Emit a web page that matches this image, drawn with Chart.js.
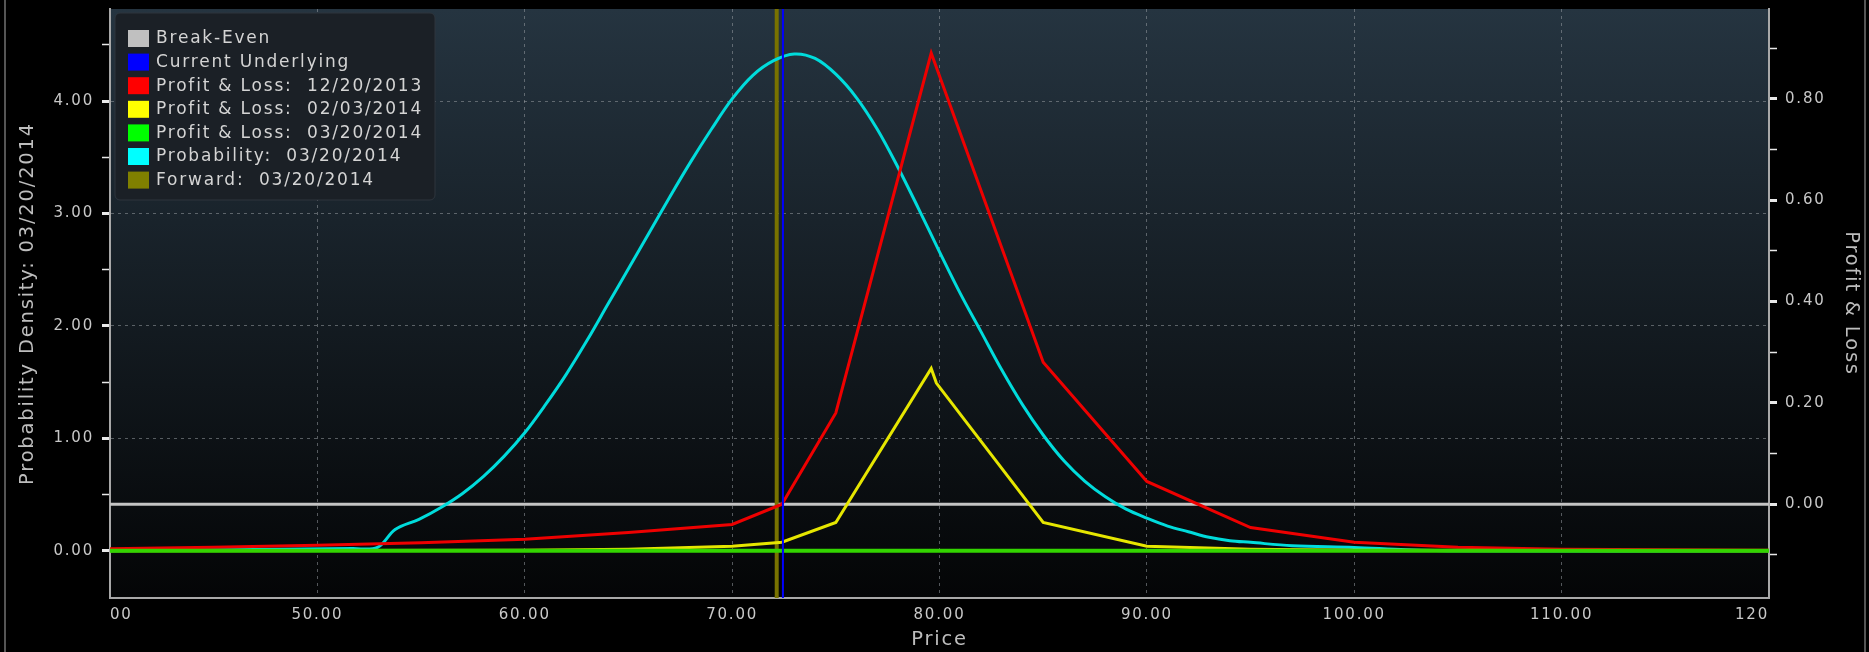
<!DOCTYPE html>
<html>
<head>
<meta charset="utf-8">
<title>Option P&amp;L</title>
<script src="https://cdn.jsdelivr.net/npm/chart.js@4.4.1/dist/chart.umd.min.js"></script>
<style>
  html, body { margin: 0; padding: 0; background: #000; }
  #wrap { width: 1869px; height: 652px; }
</style>
</head>
<body>
<div id="wrap"><canvas id="pnlChart"></canvas></div>
<script>
// prices on the x axis
const probPrice = [40, 51.7, 52.9, 53.75, 54.9, 56, 57, 58, 59, 60, 61, 62, 63, 64, 65, 66, 67, 68, 69, 70, 71, 72, 73, 74, 75, 76, 77, 78, 79, 80, 81, 82, 83, 84, 85, 86, 87, 88, 89, 90, 91, 92, 93, 94, 95, 97, 100, 102.5, 105, 120];
const probDensity = [0, 0.02, 0.03, 0.19, 0.28, 0.39, 0.51, 0.66, 0.84, 1.05, 1.30, 1.57, 1.87, 2.19, 2.51, 2.83, 3.15, 3.46, 3.75, 4.02, 4.23, 4.36, 4.42, 4.38, 4.24, 4.03, 3.75, 3.41, 3.04, 2.66, 2.29, 1.95, 1.61, 1.30, 1.03, 0.80, 0.62, 0.48, 0.37, 0.29, 0.22, 0.17, 0.12, 0.09, 0.075, 0.045, 0.03, 0.01, 0, 0];

const pnlPrice1 = [40, 45, 50, 55, 60, 65, 70, 72.4, 75, 79.6, 85, 90, 95, 100, 105, 110, 120];
const pnl1 = [-0.088, -0.085, -0.081, -0.076, -0.069, -0.056, -0.040, 0.0, 0.18, 0.89, 0.28, 0.045, -0.046, -0.075, -0.085, -0.089, -0.091];

const pnlPrice2 = [40, 60, 65, 70, 72.4, 75, 79.6, 79.85, 85, 90, 95, 100, 120];
const pnl2 = [-0.092, -0.091, -0.089, -0.083, -0.075, -0.036, 0.268, 0.239, -0.036, -0.083, -0.089, -0.091, -0.092];

const pnlPrice3 = [40, 120];
const pnl3 = [-0.092, -0.092];

const breakEvenPrice = [40, 120];
const breakEven = [0, 0];

const forwardPrice = 72.15;
const underlyingPrice = 72.45;

const densityRange = [-0.42, 4.82];
const pnlRange = [-0.185, 0.977];

const xTickValues = [40, 50, 60, 70, 80, 90, 100, 110, 120];
const xTickLabels = ['00', '50.00', '60.00', '70.00', '80.00', '90.00', '100.00', '110.00', '120'];
const leftTicks = [0, 0.5, 1, 1.5, 2, 2.5, 3, 3.5, 4, 4.5];
const rightTicks = [-0.1, 0, 0.1, 0.2, 0.3, 0.4, 0.5, 0.6, 0.7, 0.8, 0.9];

function toPoints(xs, ys) {
  return xs.map(function(x, i) { return {x: x, y: ys[i]}; });
}

function vline(x, range) {
  return [{x: x, y: range[0]}, {x: x, y: range[1]}];
}

const gridColor = 'rgba(150,155,160,0.55)';

// dark gradient behind the plot, black everywhere else
const plotBackground = {
  id: 'plotBackground',
  beforeDraw(chart) {
    const ctx = chart.ctx;
    const a = chart.chartArea;
    ctx.save();
    ctx.fillStyle = '#000';
    ctx.fillRect(0, 0, chart.width, chart.height);
    const g = ctx.createLinearGradient(0, a.top, 0, a.bottom);
    g.addColorStop(0, '#253440');
    g.addColorStop(1, '#040506');
    ctx.fillStyle = g;
    ctx.fillRect(a.left, a.top, a.right - a.left, a.bottom - a.top);
    ctx.strokeStyle = '#555';
    ctx.lineWidth = 2;
    ctx.beginPath();
    ctx.moveTo(5, 0); ctx.lineTo(5, chart.height);
    ctx.moveTo(chart.width - 4, 0); ctx.lineTo(chart.width - 4, chart.height);
    ctx.stroke();
    ctx.restore();
    ctx.letterSpacing = '1.8px';
  }
};

// legend box drawn inside the plot, top left
const boxLegend = {
  id: 'boxLegend',
  afterDraw(chart) {
    const ctx = chart.ctx;
    const a = chart.chartArea;
    const x = a.left + 5, y = a.top + 4, w = 320, h = 187;
    ctx.save();
    ctx.fillStyle = '#1b2026';
    ctx.strokeStyle = '#2e353d';
    ctx.lineWidth = 1;
    ctx.beginPath();
    ctx.roundRect(x, y, w, h, 5);
    ctx.fill();
    ctx.stroke();
    ctx.font = '17px "DejaVu Sans"';
    ctx.letterSpacing = '1.8px';
    ctx.textBaseline = 'middle';
    chart.data.datasets.forEach(function(ds, i) {
      const cy = y + 25 + i * 23.6;
      ctx.fillStyle = ds.legendColor;
      ctx.fillRect(x + 13, cy - 8, 21, 17);
      ctx.fillStyle = '#d4d4d4';
      ctx.fillText(ds.label, x + 41, cy + 1);
    });
    ctx.restore();
  }
};

const datasets = [
  {label: 'Break-Even', data: toPoints(breakEvenPrice, breakEven), yAxisID: 'y1',
   borderColor: '#c4c4c4', legendColor: '#c0c0c0', borderWidth: 3, order: 7},
  {label: 'Current Underlying', data: vline(underlyingPrice, densityRange), yAxisID: 'y',
   borderColor: '#0000ff', legendColor: '#0000ff', borderWidth: 2, order: 1},
  {label: 'Profit & Loss:  12/20/2013', data: toPoints(pnlPrice1, pnl1), yAxisID: 'y1',
   borderColor: '#ee0000', legendColor: '#ff0000', borderWidth: 3, order: 4},
  {label: 'Profit & Loss:  02/03/2014', data: toPoints(pnlPrice2, pnl2), yAxisID: 'y1',
   borderColor: '#e6e600', legendColor: '#ffff00', borderWidth: 3, order: 3},
  {label: 'Profit & Loss:  03/20/2014', data: toPoints(pnlPrice3, pnl3), yAxisID: 'y1',
   borderColor: '#33d400', legendColor: '#00ff00', borderWidth: 4, order: 2},
  {label: 'Probability:  03/20/2014', data: toPoints(probPrice, probDensity), yAxisID: 'y',
   borderColor: '#00dcdc', legendColor: '#00ffff', borderWidth: 3, order: 5,
   tension: 0.35},
  {label: 'Forward:  03/20/2014', data: vline(forwardPrice, densityRange), yAxisID: 'y',
   borderColor: '#787200', legendColor: '#808000', borderWidth: 4, order: 6}
];

const tickFont = {family: 'DejaVu Sans', size: 15};
const titleFont = {family: 'DejaVu Sans', size: 19.5, lineHeight: 1.2};

// no extra room for end labels, the plot area is fixed by the widths below
function noPad(scale) {
  scale.paddingTop = 0;
  scale.paddingBottom = 0;
  scale.paddingLeft = 0;
  scale.paddingRight = 0;
}

const chart = new Chart(document.getElementById('pnlChart'), {
  type: 'line',
  data: {datasets: datasets},
  plugins: [plotBackground, boxLegend],
  options: {
    responsive: true,
    maintainAspectRatio: false,
    animation: false,
    layout: {padding: {top: 9, left: 0, right: 0, bottom: 0}},
    elements: {point: {radius: 0}, line: {tension: 0}},
    plugins: {legend: {display: false}, tooltip: {enabled: false}},
    scales: {
      x: {
        type: 'linear',
        min: 40,
        max: 120,
        afterBuildTicks: function(axis) { axis.ticks = xTickValues.map(function(v) { return {value: v}; }); },
        afterFit: function(scale) { scale.height = 54; noPad(scale); },
        ticks: {
          color: '#c8c8c8', font: tickFont, padding: 8, align: 'inner', maxRotation: 0, autoSkip: false,
          callback: function(value, index) { return xTickLabels[index]; }
        },
        grid: {
          drawTicks: false,
          color: function(ctx) { return ctx.tick && (ctx.tick.value === 40 || ctx.tick.value === 120) ? 'transparent' : gridColor; },
          borderDash: [3, 4]
        },
        border: {color: '#a8a8a8', width: 2, dash: [3, 4]},
        title: {display: true, text: 'Price', color: '#bdbdbd', font: titleFont, padding: {top: 0, bottom: 0}}
      },
      y: {
        position: 'left',
        min: densityRange[0],
        max: densityRange[1],
        afterBuildTicks: function(axis) { axis.ticks = leftTicks.map(function(v) { return {value: v}; }); },
        afterFit: function(scale) { scale.width = 110; noPad(scale); },
        ticks: {
          color: '#c8c8c8', font: tickFont, padding: 8,
          callback: function(value) { return value % 1 === 0 ? value.toFixed(2) : ''; }
        },
        grid: {
          tickLength: 8,
          color: function(ctx) { return ctx.tick && ctx.tick.value % 1 === 0 && ctx.tick.value !== 0 ? gridColor : 'transparent'; },
          tickColor: '#e8e8e8',
          tickWidth: function(ctx) { return ctx.tick && ctx.tick.value % 1 === 0 ? 3 : 1.5; },
          borderDash: [3, 4]
        },
        border: {color: '#a8a8a8', width: 2, dash: [3, 4]},
        title: {display: true, text: 'Probability Density: 03/20/2014', color: '#bdbdbd', font: titleFont, padding: {top: 16, bottom: 0}}
      },
      y1: {
        position: 'right',
        min: pnlRange[0],
        max: pnlRange[1],
        afterBuildTicks: function(axis) { axis.ticks = rightTicks.map(function(v) { return {value: v}; }); },
        afterFit: function(scale) { scale.width = 100; noPad(scale); },
        ticks: {
          color: '#c8c8c8', font: tickFont, padding: 8,
          callback: function(value) { return Math.round(value * 10) % 2 === 0 ? value.toFixed(2) : ''; }
        },
        grid: {
          drawOnChartArea: false,
          tickLength: 8,
          tickColor: '#e8e8e8',
          tickWidth: function(ctx) { return ctx.tick && Math.round(ctx.tick.value * 10) % 2 === 0 ? 3 : 1.5; }
        },
        border: {color: '#a8a8a8', width: 2},
        title: {display: true, text: 'Profit & Loss', color: '#bdbdbd', font: titleFont, padding: {top: 6, bottom: 0}}
      }
    }
  }
});
</script>
</body>
</html>
